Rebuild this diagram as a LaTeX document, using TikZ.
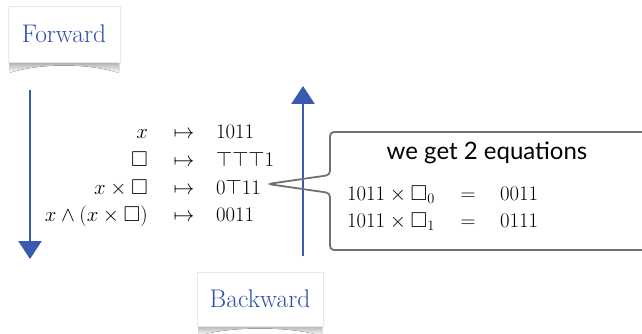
\documentclass[tikz,border=0pt]{standalone}
\usepackage{amsmath,amssymb}
\usepackage{fontspec}
\newfontfamily\calloutfont{Lato}
\usetikzlibrary{arrows.meta}
\definecolor{penblue}{RGB}{58,90,176}
\definecolor{labelblue}{RGB}{48,78,168}
\definecolor{calloutgray}{RGB}{112,112,112}
\tikzset{
  pencil/.style={draw=penblue, line width=2.8pt,
    -{Triangle[width=23pt,length=18pt]}},
  labelbox/.style={fill=white, draw=gray!18, line width=0.8pt,
    text=labelblue, font=\fontsize{25.5}{30}\selectfont, inner sep=0pt},
  mathcell/.style={font=\fontsize{21.5}{25}\selectfont, inner sep=0pt},
  curlshadow/.style={top color=gray!75, bottom color=white, draw=none},
}
\begin{document}
\begin{tikzpicture}[x=1pt,y=-1pt]
\useasboundingbox (0,0) rectangle (642,334);

% label boxes with curled shadows
\fill[curlshadow] (9,60) -- (9,73) .. controls (40,63) and (88,63) .. (119,73) -- (119,60) -- cycle;
\node[labelbox, minimum width=112pt, minimum height=56pt] (fwd) at (64,34) {Forward};

\fill[curlshadow] (198,323) -- (198,336) .. controls (230,326) and (290,326) .. (322,336) -- (322,323) -- cycle;
\node[labelbox, minimum width=126pt, minimum height=54pt] (bwd) at (260,299) {Backward};

% direction arrows
\coordinate (fa) at (30,90);
\coordinate (fb) at (30,259);
\coordinate (ba) at (303,256);
\coordinate (bb) at (303,86);
\draw[pencil] (fa) -- (fb);
\draw[pencil] (ba) -- (bb);

% evaluation table
\foreach \lhs/\rhs/\y/\n in {
  {x}/{1011}/139/r1,
  {\square}/{\top\top\top1}/166/r2,
  {x\times\square}/{0\top11}/194/r3,
  {x\wedge(x\times\square)}/{0011}/221/r4} {
  \node[mathcell, anchor=base east] (\n l) at (148,\y) {$\lhs$};
  \node[mathcell, anchor=base] (\n m) at (184,\y) {$\mapsto$};
  \node[mathcell, anchor=base west] (\n r) at (216,\y) {$\rhs$};
}

% callout
\coordinate (tip) at (268,184);
\draw[calloutgray, line width=1.8pt, rounded corners=4pt]
  (330,175) -- (330,132) -- (660,132) -- (660,250) -- (330,250) -- (330,193) -- (tip) -- cycle;
\node[font=\calloutfont\fontsize{24}{28}\selectfont, inner sep=0pt, anchor=base] (head) at (487,159) {we get 2 equations};

\node[mathcell, anchor=base west] (e1l) at (347,200) {$1011\times\square_0$};
\node[mathcell, anchor=base] (e1m) at (468,200) {$=$};
\node[mathcell, anchor=base west] (e1r) at (500,200) {$0011$};
\node[mathcell, anchor=base west] (e2l) at (347,227) {$1011\times\square_1$};
\node[mathcell, anchor=base] (e2m) at (468,227) {$=$};
\node[mathcell, anchor=base west] (e2r) at (500,227) {$0111$};
\end{tikzpicture}
\end{document}
